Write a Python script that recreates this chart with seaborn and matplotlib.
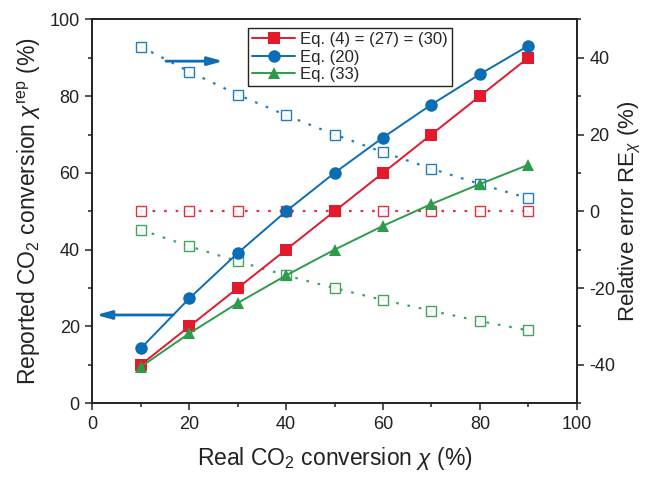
import numpy as np
import pandas as pd
import matplotlib
matplotlib.use("Agg")
import matplotlib.pyplot as plt
import seaborn as sns
from matplotlib.ticker import MultipleLocator

# ---- data ----
real_conv = [10, 20, 30, 40, 50, 60, 70, 80, 90]
rep_eq4 = [10, 20, 30, 40, 50, 60, 70, 80, 90]
rep_eq20 = [14.3, 27.3, 39.1, 50.0, 60.0, 69.2, 77.8, 85.7, 93.1]
rep_eq33 = [9.5, 18.2, 26.1, 33.3, 40.0, 46.2, 51.9, 57.1, 62.1]
re_eq4 = [0, 0, 0, 0, 0, 0, 0, 0, 0]
re_eq20 = [42.9, 36.4, 30.4, 25.0, 20.0, 15.4, 11.1, 7.1, 3.4]
re_eq33 = [-4.8, -9.1, -13.0, -16.7, -20.0, -23.1, -25.9, -28.6, -31.0]
labels = ["Eq. (4) = (27) = (30)", "Eq. (20)", "Eq. (33)"]
x_ticks = [0, 20, 40, 60, 80, 100]
y_ticks = [0, 20, 40, 60, 80, 100]
y2_ticks = [-40, -20, 0, 20, 40]

RED = "#E3192D"
BLUE = "#0B6EB5"
GREEN = "#2E9B4B"

sns.set_style("ticks")
plt.rcParams["font.family"] = ["Liberation Sans", "DejaVu Sans"]
plt.rcParams["mathtext.fontset"] = "custom"
plt.rcParams["mathtext.rm"] = "Liberation Sans"
plt.rcParams["mathtext.it"] = "Liberation Sans:italic"
plt.rcParams["axes.unicode_minus"] = False

fig = plt.figure(figsize=(6.47, 4.78), dpi=100)
ax = fig.add_axes([0.1427, 0.1563, 0.7487, 0.8033])
ax2 = ax.twinx()

series = [(rep_eq4, re_eq4, RED, "s", 7.5),
          (rep_eq20, re_eq20, BLUE, "o", 8),
          (rep_eq33, re_eq33, GREEN, "^", 8.5)]

# relative error (dotted, hollow squares with a center dot)
for rep, re, col, mk, ms in series:
    sns.lineplot(x=real_conv, y=re, ax=ax2, color=col, lw=1.6,
                 dashes=False, legend=False)
    ln = ax2.lines[-1]
    ln.set_dashes((1.2, 4.0))
    ln.set_marker("s")
    ln.set_markersize(7)
    ln.set_markerfacecolor("white")
    ln.set_markeredgecolor(col)
    ln.set_markeredgewidth(1.0)
    ln.set_alpha(0.9)
    sns.scatterplot(x=real_conv, y=re, ax=ax2, color=col, marker="s",
                    s=3, linewidth=0, legend=False)

# reported conversion (solid, filled markers)
df = pd.DataFrame({
    "x": real_conv * 3,
    "y": rep_eq4 + rep_eq20 + rep_eq33,
    "eq": [labels[0]] * 9 + [labels[1]] * 9 + [labels[2]] * 9,
})
sns.lineplot(data=df, x="x", y="y", hue="eq", style="eq",
             palette=[RED, BLUE, GREEN], markers=["s", "o", "^"],
             dashes=False, lw=1.4, markersize=9, markeredgewidth=0,
             ax=ax, zorder=5)
ax.set_zorder(ax2.get_zorder() + 1)
ax.patch.set_visible(False)

ax.set_xlim(0, 100)
ax.set_ylim(0, 100)
ax2.set_ylim(-50, 50)
ax.set_xticks(x_ticks)
ax.set_yticks(y_ticks)
ax2.set_yticks(y2_ticks)
ax.xaxis.set_minor_locator(MultipleLocator(10))
ax.yaxis.set_minor_locator(MultipleLocator(10))
ax2.yaxis.set_minor_locator(MultipleLocator(10))
for a in (ax, ax2):
    a.tick_params(which="major", direction="out", length=5, width=1.1,
                  labelsize=13, color="#222222", labelcolor="#222222", pad=4)
    a.tick_params(which="minor", direction="out", length=3, width=1.1,
                  color="#222222")
    for s in a.spines.values():
        s.set_linewidth(1.2)
        s.set_color("#222222")
        s.set_visible(True)

ax.set_xlabel(r"Real CO$_2$ conversion $\chi$ (%)", fontsize=16.5,
              color="#222222", labelpad=9)
ax.set_ylabel(r"Reported CO$_2$ conversion $\chi^{\mathrm{rep}}$ (%)",
              fontsize=16.5, color="#222222", labelpad=5)
ax2.set_ylabel(r"Relative error RE$_\chi$ (%)", fontsize=16,
               color="#222222", labelpad=1)

leg = ax.legend(loc="upper left", bbox_to_anchor=(0.321, 0.977),
                fontsize=12, frameon=True, fancybox=False,
                edgecolor="#222222", framealpha=1, borderpad=0.25,
                labelspacing=0.15, handlelength=2.6, handletextpad=0.3,
                borderaxespad=0)
leg.get_frame().set_linewidth(1.0)
leg.set_title(None)

# direction arrows
ax.annotate("", xy=(27, 89.1), xytext=(15.2, 89.1),
            arrowprops=dict(arrowstyle="-|>,head_length=0.9,head_width=0.25",
                            color=BLUE, lw=2.0, shrinkA=0, shrinkB=0))
ax.annotate("", xy=(0.8, 23), xytext=(16.7, 23),
            arrowprops=dict(arrowstyle="-|>,head_length=0.9,head_width=0.25",
                            color=BLUE, lw=2.0, shrinkA=0, shrinkB=0))

fig.savefig("out.png", dpi=100)
